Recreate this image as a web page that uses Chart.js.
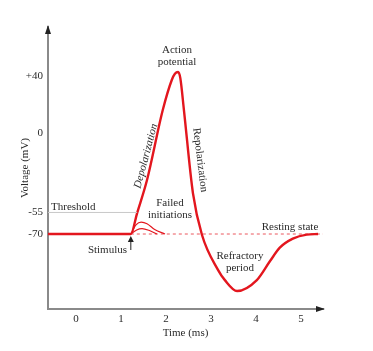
<!DOCTYPE html>
<html>
<head>
<meta charset="utf-8">
<script src="https://cdn.jsdelivr.net/npm/chart.js@4/dist/chart.umd.min.js"></script>
<style>
  html, body { margin: 0; padding: 0; background: #fff; }
  #wrap { width: 373px; height: 351px; }
</style>
</head>
<body>
<div id="wrap"><canvas id="chart" width="373" height="351"></canvas></div>
<script>
// action potential trace (time in ms, voltage in mV)
const timeMs    = [-0.62, 1.22, 1.36, 1.58, 1.93, 2.13, 2.20, 2.27, 2.32, 2.40, 2.60, 2.80, 3.16, 3.31, 3.58, 4.02, 4.31, 4.53, 4.82, 5.13, 5.38];
const voltageMv = [-70, -70, -55.4, -32.4, 16.3, 37.2, 41.5, 42.8, 38.5, 16.3, -41.5, -70.5, -95.1, -102.1, -109.7, -102.1, -89, -79.5, -73.2, -70.4, -70];

// failed initiations (two sub-threshold bumps)
const failedBigT  = [1.22, 1.34, 1.45, 1.58, 1.75, 1.98];
const failedBigV  = [-70, -63.5, -61.7, -62.8, -66.8, -70];
const failedSmallT = [1.22, 1.35, 1.47, 1.62, 1.80];
const failedSmallV = [-70, -67.2, -66.3, -67.4, -70];

// reference levels
const thresholdT = [-0.62, 1.36];
const thresholdV = [-55, -55];
const restingT = [1.22, 5.49];
const restingV = [-70, -70];

// axis ticks
const xTicks = [0, 1, 2, 3, 4, 5];
const yTicks = [40, 0, -55, -70];
const yTickLabels = ['+40', '0', '-55', '-70'];

const RED = '#e3161e';
const SERIF = "'Liberation Serif', 'DejaVu Serif', serif";

function pts(xs, ys) {
    return xs.map((x, i) => ({ x: x, y: ys[i] }));
}

const notes = [
    { text: 'Action', x: 177, y: 50 },
    { text: 'potential', x: 177, y: 62 },
    { text: 'Threshold', x: 51, y: 207, align: 'left' },
    { text: 'Failed', x: 170, y: 203 },
    { text: 'initiations', x: 170, y: 215 },
    { text: 'Stimulus', x: 127, y: 250, align: 'right' },
    { text: 'Resting state', x: 290, y: 227 },
    { text: 'Refractory', x: 240, y: 256 },
    { text: 'period', x: 240, y: 268 },
    { text: 'Depolarization', x: 146, y: 156, rot: -75, italic: true },
    { text: 'Repolarization', x: 200, y: 160, rot: 83 }
];

const decorPlugin = {
    id: 'decor',
    afterDraw(chart) {
        const ctx = chart.ctx;
        const a = chart.chartArea;
        ctx.save();
        // axis arrowheads
        ctx.fillStyle = '#222';
        ctx.beginPath();
        ctx.moveTo(a.left, a.top - 2);
        ctx.lineTo(a.left - 3, a.top + 7);
        ctx.lineTo(a.left + 3, a.top + 7);
        ctx.closePath();
        ctx.fill();
        ctx.beginPath();
        ctx.moveTo(a.right + 2, a.bottom);
        ctx.lineTo(a.right - 7, a.bottom - 3);
        ctx.lineTo(a.right - 7, a.bottom + 3);
        ctx.closePath();
        ctx.fill();

        // stimulus arrow
        const sx = chart.scales.x.getPixelForValue(1.22);
        const sy = chart.scales.y.getPixelForValue(-70);
        ctx.strokeStyle = '#222';
        ctx.lineWidth = 1;
        ctx.beginPath();
        ctx.moveTo(sx, sy + 16);
        ctx.lineTo(sx, sy + 6);
        ctx.stroke();
        ctx.beginPath();
        ctx.moveTo(sx, sy + 2);
        ctx.lineTo(sx - 3, sy + 8);
        ctx.lineTo(sx + 3, sy + 8);
        ctx.closePath();
        ctx.fill();

        // annotations
        ctx.fillStyle = '#2a2a2a';
        ctx.textBaseline = 'middle';
        notes.forEach(n => {
            ctx.save();
            ctx.font = (n.italic ? 'italic ' : '') + '11px ' + SERIF;
            ctx.textAlign = n.align || 'center';
            ctx.translate(n.x, n.y);
            if (n.rot) ctx.rotate(n.rot * Math.PI / 180);
            ctx.fillText(n.text, 0, 0);
            ctx.restore();
        });
        ctx.restore();
    }
};

new Chart(document.getElementById('chart').getContext('2d'), {
    type: 'line',
    data: {
        datasets: [
            {
                data: pts(thresholdT, thresholdV),
                borderColor: '#c8c8c8',
                borderWidth: 1,
                pointRadius: 0
            },
            {
                data: pts(restingT, restingV),
                borderColor: 'rgba(227, 22, 30, 0.6)',
                borderWidth: 1.2,
                borderDash: [3, 3],
                pointRadius: 0
            },
            {
                data: pts(failedBigT, failedBigV),
                borderColor: RED,
                borderWidth: 1.2,
                cubicInterpolationMode: 'monotone',
                pointRadius: 0
            },
            {
                data: pts(failedSmallT, failedSmallV),
                borderColor: RED,
                borderWidth: 1.2,
                cubicInterpolationMode: 'monotone',
                pointRadius: 0
            },
            {
                data: pts(timeMs, voltageMv),
                borderColor: RED,
                borderWidth: 2.4,
                cubicInterpolationMode: 'monotone',
                pointRadius: 0
            }
        ]
    },
    options: {
        responsive: false,
        devicePixelRatio: 1,
        animation: false,
        layout: { padding: { top: 27, right: 50, left: 0, bottom: 0 } },
        plugins: {
            legend: { display: false },
            tooltip: { enabled: false }
        },
        scales: {
            x: {
                type: 'linear',
                min: -0.62,
                max: 5.49,
                afterFit: function(scale) { scale.height = 42; },
                afterBuildTicks: function(scale) {
                    scale.ticks = xTicks.map(v => ({ value: v }));
                },
                grid: { display: false, drawTicks: false },
                border: { display: true, color: '#8a8a8a', width: 2 },
                ticks: {
                    padding: 4,
                    color: '#2a2a2a',
                    font: { family: SERIF, size: 11 },
                    maxRotation: 0
                },
                title: {
                    display: true,
                    text: 'Time (ms)',
                    color: '#2a2a2a',
                    font: { family: SERIF, size: 11 },
                    padding: { top: 0, bottom: 11 }
                }
            },
            y: {
                type: 'linear',
                min: -122.2,
                max: 74.1,
                afterFit: function(scale) { scale.width = 48; },
                afterBuildTicks: function(scale) {
                    scale.ticks = yTicks.map(v => ({ value: v }));
                },
                grid: { display: false, drawTicks: false },
                border: { display: true, color: '#8a8a8a', width: 2 },
                ticks: {
                    padding: 5,
                    color: '#2a2a2a',
                    font: { family: SERIF, size: 11 },
                    callback: function(value) {
                        const i = yTicks.indexOf(value);
                        return i >= 0 ? yTickLabels[i] : '';
                    }
                },
                title: {
                    display: true,
                    text: 'Voltage (mV)',
                    color: '#2a2a2a',
                    font: { family: SERIF, size: 11 },
                    padding: { top: 19, bottom: 0 }
                }
            }
        }
    },
    plugins: [decorPlugin]
});
</script>
</body>
</html>
